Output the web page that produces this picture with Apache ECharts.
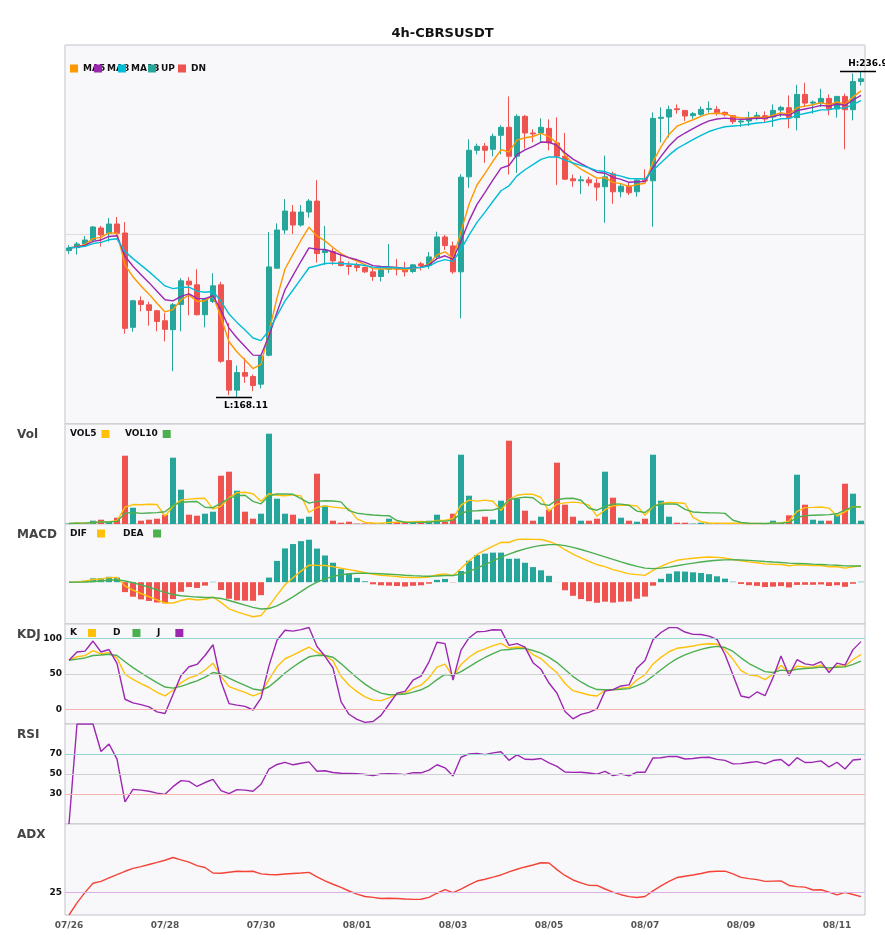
<!DOCTYPE html>
<html>
<head>
<meta charset="utf-8">
<script src="https://cdn.jsdelivr.net/npm/echarts@6/dist/echarts.min.js"></script>
<style>
html,body{margin:0;padding:0;background:#ffffff;}
#chart{width:885px;height:950px;}
</style>
</head>
<body>
<div id="chart"></div>
<script>
// ---- categories / tick labels ----
const days = ['07/26','07/27','07/28','07/29','07/30','07/31','08/01','08/02','08/03',
              '08/04','08/05','08/06','08/07','08/08','08/09','08/10','08/11','08/12'];
const hours = ['00:00','04:00','08:00','12:00','16:00','20:00'];
const tickLabels = ['07/26','07/28','07/30','08/01','08/03','08/05','08/07','08/09','08/11'];

// ---- 4h candles ----
const opens = [199.10,199.73,200.50,201.34,203.87,202.75,204.71,202.82,182.90,188.51,
187.67,186.41,184.30,182.41,187.74,192.65,191.88,185.56,188.37,191.88,
175.89,169.65,173.36,172.52,170.91,177.01,195.39,203.45,207.24,204.50,
207.24,209.55,198.68,198.89,196.72,195.95,195.95,195.53,194.62,193.63,
195.18,195.39,195.18,194.69,196.30,195.95,197.77,201.98,200.09,194.62,
214.67,220.28,221.13,220.49,223.44,225.12,219.02,227.44,223.93,223.93,
224.91,221.83,219.02,214.25,213.83,214.04,213.34,212.57,215.30,211.52,
212.71,211.52,214.04,213.83,227.02,227.30,229.05,228.70,227.58,227.86,
228.91,228.91,228.28,227.58,226.25,226.46,226.95,227.58,227.30,228.77,
229.26,227.16,232.07,230.24,230.24,231.23,228.98,231.65,228.84,234.80];
const closes = [199.66,200.50,201.34,204.08,202.40,204.71,202.75,182.69,188.51,187.74,
186.48,184.16,182.48,187.67,192.72,191.88,185.56,188.86,191.66,175.75,
169.65,173.36,172.59,170.63,176.80,195.66,203.45,207.45,204.50,207.24,
209.55,198.47,199.10,196.93,195.95,195.74,195.53,194.62,193.63,195.04,
195.39,195.18,194.62,196.09,195.95,197.77,201.98,200.16,194.62,214.60,
220.28,221.13,220.28,223.23,225.12,219.02,227.44,223.93,223.72,225.12,
221.83,219.02,214.18,213.83,214.04,213.41,212.50,214.67,211.52,212.71,
211.31,213.97,213.83,227.02,227.23,228.91,228.84,227.51,228.00,228.91,
229.12,228.21,227.79,226.32,226.46,227.16,227.65,226.88,228.70,229.33,
227.16,232.07,230.24,230.45,231.23,228.98,231.65,228.84,234.80,235.36];
const lows = [198.40,198.26,200.30,201.00,199.94,201.00,202.40,181.57,181.99,186.27,
183.25,182.06,179.95,173.64,182.06,185.42,185.42,182.90,188.02,175.40,
168.60,168.11,171.19,169.43,170.00,176.80,195.25,202.61,202.61,204.15,
206.05,196.58,196.09,196.09,195.74,193.98,194.69,194.34,192.72,192.58,
194.34,193.85,193.63,194.34,194.90,195.25,197.14,199.24,194.20,184.80,
212.36,219.44,217.62,219.02,219.44,215.16,215.51,220.63,221.97,221.97,
220.28,212.92,213.97,212.57,211.03,212.71,209.62,204.99,208.99,210.33,
210.82,210.46,213.62,204.15,221.97,222.95,228.00,226.46,226.95,227.44,
228.21,227.58,227.44,225.83,225.20,225.41,226.60,226.25,225.20,227.30,
224.91,224.49,229.40,228.00,229.40,227.65,227.16,220.50,226.60,233.96];
const highs = [200.22,200.92,202.18,204.29,204.29,205.97,206.18,205.13,188.72,189.42,
188.30,186.50,185.91,188.02,193.28,193.49,195.17,189.14,194.33,192.51,
183.81,174.83,176.45,172.94,177.15,203.03,204.85,209.97,208.71,208.71,
209.97,213.97,204.29,199.59,198.54,196.79,196.58,195.74,195.39,195.74,
200.51,197.35,196.72,196.30,196.72,198.82,203.10,202.40,201.00,215.23,
222.60,221.69,221.83,223.79,225.54,231.64,227.86,227.72,224.70,227.02,
226.80,227.23,223.93,215.16,214.88,214.67,214.25,219.16,215.79,213.13,
213.48,214.39,216.28,228.28,229.33,229.70,229.96,228.75,228.35,229.54,
230.59,229.61,228.49,227.65,226.74,228.42,228.35,228.49,229.96,229.68,
231.86,234.10,234.52,230.80,233.26,232.07,231.65,232.21,236.50,236.90];
// volume (relative units)
const volumes = [0.5,1.3,0.7,3.3,4.3,2.0,6.3,68.3,16.3,3.3,
4.3,5.3,9.3,66.3,34.3,9.3,8.3,10.3,12.3,48.3,
52.3,33.3,12.3,5.3,10.3,90.3,25.3,10.3,9.3,5.3,
7.3,50.3,18.3,3.3,1.3,2.3,0.3,0.5,0.7,0.7,
5.3,2.0,1.7,1.7,2.0,3.3,9.3,2.3,10.3,69.3,
28.3,4.3,7.3,4.3,23.3,83.3,25.3,13.3,3.3,7.3,
14.3,61.3,19.3,7.3,3.3,3.3,5.3,52.3,26.3,6.3,
3.3,2.3,5.3,69.3,23.3,7.3,1.3,1.3,0.3,1.3,
0.7,0.7,0.7,0.7,0.3,0.3,0.3,0.3,3.3,1.3,
8.7,49.3,19.3,4.3,3.3,3.3,9.3,40.3,30.3,3.3];

// indicator settings (names shown in legends)
const maNames = ['MA5','MA8','MA13'];
const maPeriods = [5,8,13];

// ---- build tables ----
const N = closes.length;
const cats = [];
days.forEach(d => hours.forEach(h => cats.push(d + ' ' + h)));
cats.length = N;
const UPC = '#26a69a', DNC = '#ef5350';
const r2 = v => Math.round(v * 100) / 100;
const candle = opens.map((o, i) => [o, closes[i], lows[i], highs[i]]);

// derived indicators computed from the OHLCV arrays above
function ema(src, n) { const a = 2 / (n + 1); let p = src[0]; return src.map((v, i) => (p = i === 0 ? v : p + a * (v - p))); }
function smaPartial(src, n) { return src.map((v, i) => { const s = src.slice(Math.max(0, i - n + 1), i + 1); return s.reduce((x, y) => x + y, 0) / s.length; }); }
const maLines = maPeriods.map(p => ema(closes, p).map(r2));
const vol5 = smaPartial(volumes, 5).map(r2), vol10 = smaPartial(volumes, 10).map(r2);
const e12 = ema(closes, 12), e26 = ema(closes, 26);
const dif = e12.map((v, i) => v - e26[i]);
const dea = ema(dif, 9);
const hist = dif.map((v, i) => 2 * (v - dea[i]));
const K = [], D = [], J = [];
(function(){ let k, d; for (let i = 0; i < N; i++) { const s = Math.max(0, i - 8); const lo = Math.min(...lows.slice(s, i + 1)), hi = Math.max(...highs.slice(s, i + 1)); const rsv = hi === lo ? 50 : (closes[i] - lo) / (hi - lo) * 100; if (i === 0) { k = rsv; d = rsv; } else { k = (2 * k + rsv) / 3; d = (2 * d + k) / 3; } K.push(r2(k)); D.push(r2(d)); J.push(r2(3 * k - 2 * d)); } })();
const RSI = [0];
(function(){ let ag = 0, al = 0; for (let i = 1; i < N; i++) { const ch = closes[i] - closes[i - 1]; const g = Math.max(ch, 0), l = Math.max(-ch, 0); if (i <= 14) { ag = (ag * (i - 1) + g) / i; al = (al * (i - 1) + l) / i; } else { ag = (ag * 13 + g) / 14; al = (al * 13 + l) / 14; } RSI.push(r2(ag + al === 0 ? 50 : 100 * ag / (ag + al))); } })();
const ADX = [0];
(function(){ const a = 2 / 15; let sTR = highs[0] - lows[0], sP = 0, sM = 0, adx = 0; for (let i = 1; i < N; i++) { const tr = Math.max(highs[i] - lows[i], Math.abs(highs[i] - closes[i - 1]), Math.abs(lows[i] - closes[i - 1])); const up = highs[i] - highs[i - 1], dn = lows[i - 1] - lows[i]; const pdm = up > dn && up > 0 ? up : 0, mdm = dn > up && dn > 0 ? dn : 0; sTR += a * (tr - sTR); sP += a * (pdm - sP); sM += a * (mdm - sM); const pdi = 100 * sP / sTR, mdi = 100 * sM / sTR; const dx = pdi + mdi === 0 ? 0 : 100 * Math.abs(pdi - mdi) / (pdi + mdi); adx += a * (dx - adx); ADX.push(r2(adx)); } })();
const mHi = Math.max(...dif.concat(dea, hist));

const lowIdx = lows.indexOf(Math.min(...lows));
const highIdx = highs.indexOf(Math.max(...highs));

// ---- layout ----
const fam = 'DejaVu Sans';
const grids = [[45,379],[424,100],[524,100],[624,100],[724,100],[824,91]].map(([t,h]) => ({
  left: 65, right: 20, top: t, height: h, show: true,
  backgroundColor: '#f8f8fb', borderColor: '#c3c3cb', borderWidth: 1
}));
const xAxes = grids.map((g, gi) => ({
  type: 'category', gridIndex: gi, data: cats, boundaryGap: true,
  axisLine: {show: false}, axisTick: {show: false}, splitLine: {show: false},
  axisLabel: {
    show: gi === 5, margin: 6, color: '#555', fontSize: 9, fontWeight: 'bold', fontFamily: fam,
    interval: (idx, v) => v.endsWith('00:00') && tickLabels.includes(v.slice(0, 5)),
    formatter: v => v.slice(0, 5)
  }
}));
const hideY = {axisLine:{show:false}, axisTick:{show:false}, axisLabel:{show:false}, splitLine:{show:false}};
const lblY = vals => ({show: true, customValues: vals, margin: 3, color: '#111', fontSize: 9, fontWeight: 'bold', fontFamily: fam});
const yAxes = [
  Object.assign({}, hideY, {type:'value', gridIndex:0, min:162.5, max:242.5, interval:40, splitLine:{show:true, lineStyle:{color:'#dcdce2'}}}),
  Object.assign({}, hideY, {type:'value', gridIndex:1, min:0, max:100}),
  Object.assign({}, hideY, {type:'value', gridIndex:2, min:-0.97 * mHi, max:1.35 * mHi}),
  Object.assign({}, hideY, {type:'value', gridIndex:3, min:-20, max:120, axisLabel: lblY([0,50,100])}),
  Object.assign({}, hideY, {type:'value', gridIndex:4, min:0, max:100, axisLabel: lblY([30,50,70])}),
  Object.assign({}, hideY, {type:'value', gridIndex:5, min:0, max:100, axisLabel: lblY([25])})
];

function legendItem(name, left, top, alignRight, extra, z) {
  return {
    data: [name], left: left, top: top, padding: 0, itemWidth: 8, itemHeight: 8, icon: 'rect',
    align: alignRight ? 'right' : 'left', z: z, zlevel: 0,
    textStyle: {fontSize: 9, fontWeight: 'bold', color: '#111', fontFamily: fam, padding: alignRight ? [0, extra, 0, 0] : 0}
  };
}
const legends = [
  legendItem(maNames[0], 70, 64, false, 0, 10),
  legendItem(maNames[1], 94, 64, false, 0, 11),
  legendItem(maNames[2], 118, 64, false, 0, 12),
  legendItem('UP', 148, 64, false, 0, 13),
  legendItem('DN', 178, 64, false, 0, 14),
  legendItem('VOL5', 70, 429.5, true, 0, 10),
  legendItem('VOL10', 125, 429.5, true, 0, 10),
  legendItem('DIF', 70, 529, true, 5, 10),
  legendItem('DEA', 123, 529, true, 4.5, 10),
  legendItem('K', 70, 628.5, true, 6, 10),
  legendItem('D', 113, 628.5, true, 7, 10),
  legendItem('J', 157, 628.5, true, 10, 10)
];

const titleStyle = {fontSize: 12, fontWeight: 'bold', color: '#444', fontFamily: fam};
const titles = [
  {text: '4h-CBRSUSDT', left: 'center', top: 27, padding: 0, textStyle: {fontSize: 13, fontWeight: 'bold', color: '#111', fontFamily: fam}},
  {text: 'Vol', left: 17, top: 429, padding: 0, textStyle: titleStyle},
  {text: 'MACD', left: 17, top: 529, padding: 0, textStyle: titleStyle},
  {text: 'KDJ', left: 17, top: 629, padding: 0, textStyle: titleStyle},
  {text: 'RSI', left: 17, top: 729, padding: 0, textStyle: titleStyle},
  {text: 'ADX', left: 17, top: 829, padding: 0, textStyle: titleStyle}
];

const line = (name, data, color, xi, extra) => Object.assign({
  name: name, type: 'line', data: data, xAxisIndex: xi, yAxisIndex: xi, color: color,
  symbol: 'none', smooth: false, lineStyle: {width: 1.4, color: color}, z: 3
}, extra || {});
const hLines = list => ({silent: true, symbol: 'none', label: {show: false}, animation: false,
  lineStyle: {type: 'solid', width: 1},
  data: list.map(([v, c]) => ({yAxis: v, lineStyle: {color: c, type: 'solid', width: 1}}))});

const markLbl = {show: true, color: '#000', fontSize: 9, fontWeight: 'bold', fontFamily: fam};
const series = [
  {
    name: 'Price', type: 'candlestick', data: candle, xAxisIndex: 0, yAxisIndex: 0, barWidth: 6,
    itemStyle: {color: UPC, color0: DNC, borderColor: UPC, borderColor0: DNC, borderWidth: 1},
    markPoint: {
      silent: true, animation: false,
      data: [
        {coord: [lowIdx, lows[lowIdx]], symbol: 'rect', symbolSize: [36, 1.5], symbolOffset: [-3, 0],
         itemStyle: {color: '#000'},
         label: Object.assign({}, markLbl, {position: 'bottom', distance: 3, offset: [12, 0], formatter: 'L:' + lows[lowIdx]})},
        {coord: [highIdx, highs[highIdx]], symbol: 'rect', symbolSize: [36, 1.5], symbolOffset: [-3, 0],
         itemStyle: {color: '#000'},
         label: Object.assign({}, markLbl, {position: 'top', distance: 3, offset: [10, 0], formatter: 'H:' + highs[highIdx]})}
      ]
    }
  },
  line(maNames[0], maLines[0], '#ff9800', 0),
  line(maNames[1], maLines[1], '#9c27b0', 0),
  line(maNames[2], maLines[2], '#00bcd4', 0),
  {name: 'UP', type: 'line', data: [], xAxisIndex: 0, yAxisIndex: 0, color: UPC},
  {name: 'DN', type: 'line', data: [], xAxisIndex: 0, yAxisIndex: 0, color: DNC},
  {name: 'Volume', type: 'bar', xAxisIndex: 1, yAxisIndex: 1, barWidth: 6,
   data: volumes.map((v, i) => ({value: v, itemStyle: {color: closes[i] >= opens[i] ? UPC : DNC}}))},
  line('VOL5', vol5, '#ffc107', 1),
  line('VOL10', vol10, '#4caf50', 1),
  {name: 'MACD', type: 'bar', xAxisIndex: 2, yAxisIndex: 2, barWidth: 6,
   data: hist.map(v => ({value: r2(v * 1000) / 1000, itemStyle: {color: v >= 0 ? UPC : DNC}}))},
  line('DIF', dif.map(v => r2(v * 100) / 100), '#ffc107', 2),
  line('DEA', dea.map(v => r2(v * 100) / 100), '#4caf50', 2),
  line('K', K, '#ffc107', 3, {markLine: hLines([[100, '#93d6cf'], [50, '#d0d0d4'], [0, '#f6b3b3']])}),
  line('D', D, '#4caf50', 3),
  line('J', J, '#9c27b0', 3),
  line('RSI', RSI, '#9c27b0', 4, {markLine: hLines([[70, '#93d6cf'], [50, '#d0d0d4'], [30, '#f6b3b3']])}),
  line('ADX', ADX, '#f44336', 5, {markLine: hLines([[25, '#dcaee3']])})
];

const chart = echarts.init(document.getElementById('chart'), null, {renderer: 'canvas'});
chart.setOption({
  animation: false,
  backgroundColor: '#ffffff',
  textStyle: {fontFamily: fam},
  title: titles,
  legend: legends,
  grid: grids,
  xAxis: xAxes,
  yAxis: yAxes,
  series: series
});
</script>
</body>
</html>
